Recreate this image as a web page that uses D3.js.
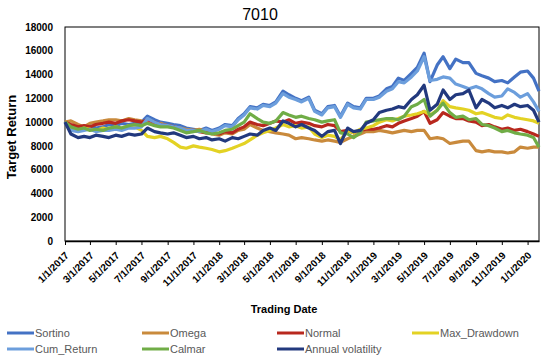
<!doctype html>
<html lang="en">
<head>
  <meta charset="utf-8">
  <title>7010</title>
  <script src="https://d3js.org/d3.v7.min.js"></script>
  <style>
    body { margin: 0; background: #fff; }
    svg { font-family: "Liberation Sans", Arial, sans-serif; }
    .tick text { font-weight: bold; font-size: 10px; fill: #000; }
    .legend text { font-size: 11px; fill: #595959; }
  </style>
</head>
<body>
<svg id="chart" width="550" height="363"></svg>
<script>
  // two readings per month (1st and 15th), last one at the right edge
  var dates = [];
  for (var yr = 2017; yr <= 2020; yr++) {
    for (var mo = 0; mo < 12; mo++) {
      if (yr == 2020 && mo > 0) break;
      dates.push(new Date(yr, mo, 1));
      dates.push(new Date(yr, mo, 15));
    }
  }
  dates.push(new Date(2020, 0, 28));

  var sortino = [10000,9500,9400,9600,9700,9500,9600,9800,9700,9900,9800,9900,10000,10500,10200,10000,9900,9800,9700,9500,9400,9300,9500,9300,
    9500,9800,9700,10300,10700,11300,11200,11500,11400,11700,12600,12300,12000,11800,12100,11000,10700,11300,11400,10500,11600,11300,11200,12000,
    12000,12200,12800,13000,13700,13500,14100,14600,15800,13400,14800,15500,14500,15300,15000,15000,14100,13900,13700,13400,13500,13300,13800,14200,
    14300,13700,12600];
  var omega = [10000,10100,9800,9600,9900,10000,10100,10200,10200,10100,10300,10200,10100,9900,9800,9900,9700,9600,9500,9400,9300,9400,9200,9000,
    8900,9100,9000,9300,9400,9800,9500,9300,9200,9100,9000,8900,8600,8700,8600,8500,8400,8500,8400,8300,8600,8800,9000,9200,
    9200,9300,9200,9100,9200,9300,9200,9300,9300,8600,8700,8600,8200,8300,8400,8400,7600,7500,7600,7500,7500,7400,7500,7900,
    7800,7900,7900];
  var normal = [10000,9800,9600,9700,9600,9800,9900,10000,9900,10100,10200,10100,10000,10200,10000,9800,9700,9600,9400,9200,9300,9200,9100,9100,
    9000,9200,9100,9400,9600,10000,9800,9700,9900,10100,10000,10200,9900,10000,9900,9700,9600,9800,9700,9200,9300,9100,9300,9400,
    9400,9500,9700,9600,9900,10100,10300,10500,10900,9900,10200,10800,10500,10300,10300,10100,10000,9700,9800,9600,9400,9500,9300,9400,
    9200,9000,8800];
  var maxDrawdown = [10000,9500,9300,9500,9400,9300,9500,9400,9600,9500,9700,9600,9300,8800,8700,8800,8600,8300,7900,7800,8000,7900,7800,7700,
    7500,7600,7800,8000,8200,8500,8900,9100,9300,9500,9800,9600,9700,9500,9600,9000,8700,8900,8800,8500,9300,9100,9400,9500,
    9700,10000,10200,10100,10300,10500,10600,10700,10900,10600,11000,11800,11300,11200,11100,11000,10700,10800,10600,10400,10300,10600,10400,10300,
    10200,10100,9900];
  var cumReturn = [10000,9300,9200,9300,9400,9200,9300,9300,9400,9300,9500,9500,9600,10300,10000,9800,9700,9600,9500,9300,9300,9200,9400,9200,
    9400,9700,9600,10200,10600,11200,11100,11400,11300,11600,12400,12100,11900,11700,12000,10900,10600,11200,11300,10400,11500,11200,11100,11900,
    11900,12100,12600,12800,13400,13300,13800,14300,15500,13500,13600,13800,13700,13200,13000,12800,13000,12800,12400,12100,12200,12800,12500,12100,
    12400,11700,10900];
  var calmar = [10000,9600,9400,9500,9300,9400,9300,9500,9600,9500,9700,9800,9700,9900,9700,9600,9600,9500,9300,9100,9200,9300,9100,9000,
    9100,9300,9400,9700,10000,10700,10300,10000,9900,10100,10800,10600,10400,10500,10300,10200,10000,10100,10200,9100,9000,8700,9100,10000,
    10100,10200,10300,10300,10200,10500,11300,11500,11900,10500,11000,11600,10800,10400,10500,10200,10300,9800,9700,9500,9200,9300,9100,9000,
    8900,8700,7900];
  var annualVol = [10000,9000,8700,8800,8700,8900,8800,8700,8900,8800,9000,8900,9000,9500,9200,9100,9000,9100,8900,8700,8800,8600,8700,8500,
    8600,8400,8700,8600,8800,9000,8900,9300,9500,9300,10100,9900,9600,9800,9500,9300,8800,9200,9300,8200,9500,9200,9300,9900,
    10200,10800,11000,11100,11300,11200,11900,12300,13100,11000,11500,12700,11900,12300,12400,12700,11200,11900,11600,11200,11400,11200,11500,11300,
    11400,11000,10000];

  var names = ["Sortino", "Omega", "Normal", "Max_Drawdown", "Cum_Return", "Calmar", "Annual volatility"];
  var colors = ["#4472C4", "#C98A3C", "#B8281E", "#E3D224", "#6C9EDC", "#70AD47", "#22397E"];
  var seriesValues = [sortino, omega, normal, maxDrawdown, cumReturn, calmar, annualVol];
  var yTicks = [0, 2000, 4000, 6000, 8000, 10000, 12000, 14000, 16000, 18000];

  var svg = d3.select("#chart");
  var plotLeft = 65, plotRight = 539, plotTop = 27, plotBottom = 241;

  var x = d3.scaleTime()
      .domain([new Date(2017, 0, 1), new Date(2020, 0, 28)])
      .range([plotLeft, plotRight]);
  var yScale = d3.scaleLinear().domain([0, 18000]).range([plotBottom, plotTop]);

  // plot frame
  svg.append("rect")
      .attr("x", plotLeft).attr("y", plotTop)
      .attr("width", plotRight - plotLeft).attr("height", plotBottom - plotTop)
      .attr("fill", "none").attr("stroke", "#000").attr("stroke-width", 1);

  var line = d3.line()
      .x(function(d, i) { return x(dates[i]); })
      .y(function(d) { return yScale(d); });

  seriesValues.forEach(function(vals, k) {
    svg.append("path")
        .datum(vals)
        .attr("fill", "none")
        .attr("stroke", colors[k])
        .attr("stroke-width", 3.2)
        .attr("stroke-linejoin", "round")
        .attr("d", line);
  });

  var xAxis = d3.axisBottom(x)
      .tickValues(d3.timeMonth.every(2).range(new Date(2017, 0, 1), new Date(2020, 0, 2)))
      .tickFormat(function(d) { return (d.getMonth() + 1) + "/1/" + d.getFullYear(); })
      .tickSize(4).tickSizeOuter(0);

  var gx = svg.append("g")
      .attr("transform", "translate(0," + plotBottom + ")")
      .call(xAxis);
  gx.select(".domain").attr("stroke", "#000").attr("stroke-width", 1.5);
  gx.selectAll(".tick line").attr("stroke", "#000");
  gx.selectAll(".tick text")
      .attr("text-anchor", "end")
      .attr("dy", null)
      .attr("y", 0).attr("x", 0)
      .attr("transform", "translate(4,15) rotate(-45)");

  var yAxis = d3.axisLeft(yScale).tickValues(yTicks).tickFormat(d3.format("d"))
      .tickSize(0).tickPadding(12);
  var gy = svg.append("g")
      .attr("transform", "translate(" + plotLeft + ",0)")
      .call(yAxis);
  gy.select(".domain").remove();

  svg.append("text")
      .attr("x", 260).attr("y", 20)
      .attr("text-anchor", "middle")
      .attr("font-size", 16)
      .text("7010");

  svg.append("text")
      .attr("transform", "translate(16,137) rotate(-90)")
      .attr("text-anchor", "middle")
      .attr("font-size", 13)
      .attr("font-weight", "bold")
      .text("Target Return");

  svg.append("text")
      .attr("x", 284).attr("y", 313)
      .attr("text-anchor", "middle")
      .attr("font-size", 11)
      .attr("font-weight", "bold")
      .text("Trading Date");

  // legend, row by row like excel
  var colX = [7, 142, 277, 412];
  var legend = svg.append("g").attr("class", "legend");
  names.forEach(function(n, i) {
    var lx = colX[i % 4], ly = 333 + Math.floor(i / 4) * 16;
    legend.append("line")
        .attr("x1", lx).attr("x2", lx + 27)
        .attr("y1", ly).attr("y2", ly)
        .attr("stroke", colors[i]).attr("stroke-width", 3);
    legend.append("text")
        .attr("x", lx + 28).attr("y", ly + 4)
        .text(n);
  });
</script>
</body>
</html>
